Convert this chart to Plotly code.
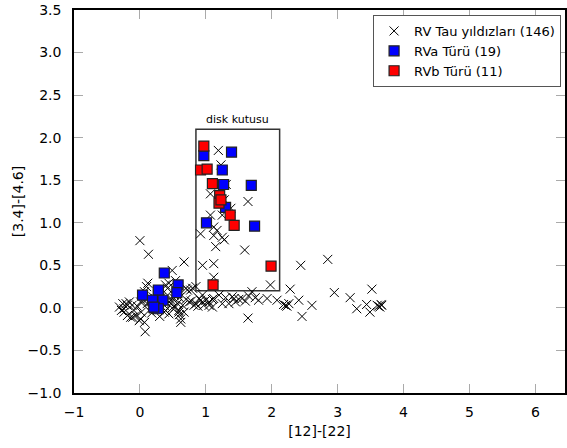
import plotly.graph_objects as go

# RV Tau stars (crosses): [12]-[22] and [3.4]-[4.6]
rv_x = [1.19, 1.23, 1.31, 1.07, 1.64, 1.28, 1.38, 1.07, 1.25, 0.92, 1.12, 1.17, 1.12, 1.25, 1.28,
        1.15, 1.59, 0.95, 1.12, 1.12, 1.98, 2.44, 2.85, 2.28, 1.70, 1.55, 1.65, 1.80, 1.93, 2.08,
        2.21, 2.26, 2.41, 2.61, 2.46, 1.64, 2.95, 3.19, 3.29, 3.44, 3.52, 3.49, 3.62, 3.67, 3.64,
        3.66, 3.60, 2.18, 2.23, 0.80, 0.90, 0.95, 1.00, 1.05, 1.10, 1.20, 1.43, 1.50, 1.40, 1.12,
        1.10, 0.97, 0.92, 0.85, 1.05, 1.25, 1.30, 1.45, 1.35, 0.00, 0.13, 0.67, 0.49, 0.12, 0.10,
        0.39, 0.54, 0.72, 0.85, -0.31, -0.26, -0.19, -0.16, -0.24, -0.19, -0.11, -0.01, -0.09, 0.08,
        0.01, 0.11, 0.29, 0.37, 0.44, 0.52, 0.57, 0.59, 0.62, 0.39, 0.60, 0.44, 0.42, 0.70, 0.77,
        -0.24, -0.14, -0.06, 0.01, 0.07, 0.62, 0.59, 0.49, 0.54, 0.47, 0.75, 0.82, 0.42, 0.52, 0.07,
        0.12, 0.04, 0.39, 0.47, 0.37, 0.44, 0.14, 0.67, -0.28, -0.21, -0.04, 0.20, 0.25, 0.32, 0.55,
        0.60, 0.65, 0.70, 0.78, 0.88, 0.18, 0.30, 0.02, -0.12, 0.95, 1.60, 1.75]
rv_y = [1.85, 1.68, 1.45, 1.34, 1.25, 1.27, 1.17, 1.09, 1.09, 0.87, 0.95, 0.91, 0.85, 0.83, 0.80,
        0.72, 0.68, 0.50, 0.52, 0.36, 0.27, 0.50, 0.57, 0.22, 0.19, 0.11, 0.14, 0.09, 0.11, 0.09,
        0.03, 0.05, 0.09, 0.03, -0.10, -0.12, 0.18, 0.12, -0.01, 0.04, 0.22, -0.05, 0.02, 0.03, 0.01,
        0.04, 0.03, 0.04, 0.02, 0.23, 0.11, 0.07, 0.09, 0.03, 0.10, 0.15, 0.11, 0.10, 0.13, 0.11,
        0.01, 0.03, 0.09, 0.05, 0.07, 0.05, 0.12, 0.07, 0.05, 0.79, 0.63, 0.54, 0.44, 0.29, 0.25,
        0.27, 0.32, 0.21, 0.25, 0.01, 0.05, 0.03, 0.07, -0.05, -0.09, -0.11, -0.15, -0.03, -0.28,
        0.07, 0.05, 0.05, 0.03, 0.07, 0.11, 0.05, -0.03, -0.13, -0.03, -0.08, 0.29, 0.23, 0.23, 0.21,
        -0.01, -0.11, -0.09, -0.13, -0.17, -0.17, -0.05, 0.00, 0.01, 0.05, 0.07, 0.03, 0.15, 0.15, 0.19,
        0.11, 0.07, 0.07, 0.09, -0.05, -0.07, -0.03, -0.05, -0.03, 0.05, 0.02, 0.13, 0.08, 0.12, 0.20,
        0.12, 0.03, 0.10, 0.08, 0.02, -0.06, -0.10, -0.05, 0.03, 0.15, 0.08, 0.12]

# RVa type (blue squares)
rva_x = [0.97, 1.39, 1.25, 1.27, 1.69, 1.30, 1.01, 1.74, 0.37, 0.58, 0.56, 0.04, 0.28, 0.28,
         0.19, 0.35, 0.22, 0.28, 0.21]
rva_y = [1.79, 1.83, 1.62, 1.45, 1.44, 1.18, 1.00, 0.96, 0.41, 0.27, 0.18, 0.15, 0.19, 0.21,
         0.09, 0.09, 0.00, -0.01, 0.01]

# RVb type (red squares)
rvb_x = [0.97, 0.92, 1.02, 1.10, 1.21, 1.20, 1.37, 1.43, 1.99, 1.11, 1.23]
rvb_y = [1.90, 1.62, 1.63, 1.46, 1.32, 1.23, 1.09, 0.97, 0.49, 0.27, 1.27]

names = ["RV Tau yıldızları (146)", "RVa Türü (19)", "RVb Türü (11)"]
box_x = [0.85, 2.12]
box_y = [0.2, 2.1]
box_label = "disk kutusu"

fig = go.Figure()
fig.add_trace(go.Scatter(x=rv_x, y=rv_y, mode="markers", name=names[0],
                         marker=dict(symbol="x-thin", size=9, color="black",
                                     line=dict(color="black", width=1))))
fig.add_trace(go.Scatter(x=rva_x, y=rva_y, mode="markers", name=names[1],
                         marker=dict(symbol="square", size=10, color="#0000ff",
                                     line=dict(color="#222222", width=1.2))))
fig.add_trace(go.Scatter(x=rvb_x, y=rvb_y, mode="markers", name=names[2],
                         marker=dict(symbol="square", size=10, color="#ff0000",
                                     line=dict(color="#222222", width=1.2))))

fig.add_shape(type="rect", x0=box_x[0], x1=box_x[1], y0=box_y[0], y1=box_y[1],
              line=dict(color="#333333", width=1.5), layer="below")
fig.add_annotation(x=(box_x[0] + box_x[1]) / 2, y=box_y[1], text=box_label,
                   showarrow=False, yanchor="bottom", yshift=1,
                   font=dict(size=11, color="black"))

axis_common = dict(showgrid=False, zeroline=False, showline=True, linecolor="black",
                   linewidth=1.5, mirror="ticks", ticks="inside", ticklen=9,
                   tickcolor="#aaaaaa", tickwidth=1,
                   tickfont=dict(size=14, color="black"))
fig.update_xaxes(range=[-1, 6.45], dtick=1, tick0=0, ticklabelstandoff=5,
                 title=dict(text="[12]-[22]", font=dict(size=14, color="black"), standoff=8),
                 **axis_common)
fig.update_yaxes(range=[-1, 3.5], dtick=0.5, tick0=0, tickformat=".1f", ticklabelstandoff=8,
                 title=dict(text="[3.4]-[4.6]", font=dict(size=14, color="black"), standoff=1),
                 **axis_common)

fig.update_layout(width=567, height=448, margin=dict(l=74, r=0, t=10, b=55),
                  paper_bgcolor="white", plot_bgcolor="white",
                  font=dict(family="DejaVu Sans", color="black"),
                  legend=dict(x=0.992, y=0.987, xanchor="right", yanchor="top",
                              bordercolor="#555555", borderwidth=1, bgcolor="white",
                              font=dict(size=13), tracegroupgap=0))

fig.write_html("out.html")
